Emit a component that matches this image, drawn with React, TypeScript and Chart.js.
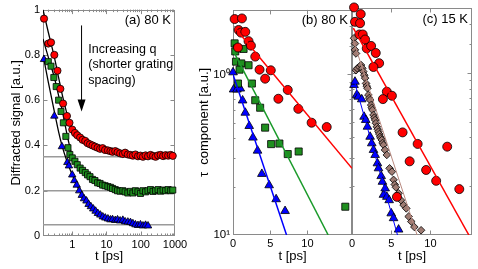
import React, { useEffect, useRef } from 'react';
import { Chart, registerables } from 'chart.js';
Chart.register(...registerables);

const FONT = "'Liberation Sans', Arial, Helvetica, sans-serif";
const W = 478, H = 269;

// ---------------- Panel (a): diffracted signal vs t (log x) ----------------
const aRedT = [0.15, 0.2, 0.24, 0.3, 0.37, 0.45, 0.54, 0.7, 0.83, 1.0, 1.2, 1.4, 1.7, 2.0, 2.4, 2.8, 3.3, 3.9, 4.6, 5.5, 6.5, 7.7, 9.1, 11, 13, 15, 18, 21, 25, 30, 35, 42, 50, 59, 70, 83, 98, 116, 138, 163, 193, 229, 271, 321, 380, 450, 533, 631, 748, 860];
const aRedV = [0.96, 0.85, 0.855, 0.80, 0.73, 0.65, 0.585, 0.53, 0.50, 0.47, 0.455, 0.445, 0.435, 0.425, 0.42, 0.41, 0.405, 0.40, 0.395, 0.39, 0.385, 0.388, 0.38, 0.378, 0.375, 0.372, 0.375, 0.37, 0.365, 0.362, 0.368, 0.36, 0.358, 0.355, 0.36, 0.352, 0.355, 0.35, 0.356, 0.352, 0.358, 0.354, 0.35, 0.356, 0.358, 0.353, 0.357, 0.355, 0.358, 0.354];

const aGreenT = [0.2, 0.24, 0.29, 0.34, 0.4, 0.47, 0.55, 0.65, 0.75, 0.85, 1.0, 1.2, 1.4, 1.7, 2.0, 2.4, 2.8, 3.3, 3.9, 4.6, 5.5, 6.5, 7.7, 9.1, 11, 13, 15, 18, 21, 25, 30, 35, 42, 50, 59, 70, 83, 98, 116, 138, 163, 193, 229, 271, 321, 380, 450, 533, 631, 748, 860];
const aGreenV = [0.77, 0.75, 0.70, 0.66, 0.60, 0.55, 0.50, 0.44, 0.39, 0.36, 0.345, 0.33, 0.315, 0.30, 0.29, 0.28, 0.27, 0.262, 0.25, 0.245, 0.235, 0.232, 0.225, 0.222, 0.218, 0.215, 0.21, 0.205, 0.20, 0.198, 0.20, 0.195, 0.19, 0.197, 0.19, 0.20, 0.195, 0.188, 0.20, 0.195, 0.20, 0.205, 0.197, 0.20, 0.205, 0.198, 0.203, 0.20, 0.205, 0.20, 0.203];

const aBlueT = [0.15, 0.3, 0.5, 0.72, 0.8, 1.0, 1.15, 1.35, 1.6, 1.9, 2.2, 2.6, 3.0, 3.5, 4.1, 4.8, 5.6, 6.6, 7.8, 9.2, 11, 13, 15, 18, 21, 25, 30, 35, 42, 50, 59, 70, 83, 98, 116, 138, 163];
const aBlueV = [0.78, 0.53, 0.395, 0.325, 0.31, 0.27, 0.245, 0.225, 0.2, 0.18, 0.165, 0.155, 0.14, 0.13, 0.12, 0.11, 0.1, 0.093, 0.085, 0.08, 0.076, 0.072, 0.073, 0.069, 0.072, 0.067, 0.07, 0.063, 0.062, 0.06, 0.055, 0.05, 0.047, 0.05, 0.045, 0.048, 0.045];

const aFitRedT = [0.14, 0.2, 0.3, 0.4, 0.5, 0.6, 0.7, 0.85, 1.0, 1.5, 2, 3, 5, 10, 30, 100, 1000];
const aFitRedV = [1.0, 0.9, 0.79, 0.7, 0.63, 0.58, 0.54, 0.5, 0.475, 0.44, 0.425, 0.41, 0.392, 0.378, 0.364, 0.356, 0.354];
const aFitGreenT = [0.14, 0.2, 0.3, 0.4, 0.5, 0.6, 0.7, 0.8, 1.0, 1.5, 2, 3, 5, 10, 30, 100, 1000];
const aFitGreenV = [0.87, 0.79, 0.70, 0.62, 0.56, 0.5, 0.45, 0.41, 0.355, 0.31, 0.29, 0.265, 0.24, 0.22, 0.2, 0.197, 0.2];
const aFitBlueT = [0.14, 0.2, 0.3, 0.4, 0.5, 0.7, 1.0, 1.5, 2, 3, 5, 10, 30, 100, 170];
const aFitBlueV = [0.8, 0.68, 0.55, 0.46, 0.4, 0.33, 0.27, 0.21, 0.175, 0.14, 0.11, 0.08, 0.065, 0.05, 0.047];

const aBaselines = [0.35, 0.2, 0.05];
const aXRange = [0.14, 1000];
const aXLabels = [1, 10, 100, 1000];
const aYRange = [0, 1];

const aArrow = { t: 1.87, from: 0.93, to: 0.55 };
const aNoteT = 2.95;
const aNoteLines = ['Increasing q', '(shorter grating', 'spacing)'];
const aNoteV = [0.825, 0.757, 0.685];

// ---------------- Panel (b): tau components, 80 K ----------------
const bRedT = [0.22, 1.2, 0.75, 1.07, 1.65, 2.09, 2.41, 0.67, 2.99, 3.57, 4.32, 5.08, 6.1, 7.36, 8.78, 10.57, 12.6];
const bRedV = [2.21, 2.23, 1.89, 1.82, 1.84, 1.61, 1.51, 1.47, 1.29, 1.07, 0.94, 1.06, 0.705, 0.80, 0.61, 0.50, 0.47];
const bGreenT = [0.22, 1.42, 0.53, 0.3, 0.4, 1.11, 2.09, 0.88, 0.67, 2.54, 2.99, 3.65, 4.32, 5.13, 6.24, 7.36, 8.83, 15.1];
const bGreenV = [1.56, 1.44, 1.45, 1.39, 1.2, 1.17, 1.14, 1.07, 0.877, 0.877, 0.69, 0.62, 0.466, 0.368, 0.371, 0.319, 0.331, 0.15];
const bBlueT = [0, 0.08, 0.53, 0.98, 1.29, 1.65, 2.18, 2.68, 3.3, 3.88, 4.86, 5.8, 7.0];
const bBlueV = [1.03, 0.805, 0.805, 0.816, 0.688, 0.577, 0.477, 0.404, 0.335, 0.24, 0.204, 0.167, 0.141];
const bFitRedT = [0.5, 16];
const bFitRedV = [1.89, 0.26];
const bFitGreenT = [0, 12.8];
const bFitGreenV = [1.41, 0.1];
const bFitBlueT = [0, 7.2];
const bFitBlueV = [1.0, 0.1];
const bXRange = [0, 16];
const bXLabels = [0, 5, 10];

// ---------------- Panel (c): tau components, 15 K ----------------
const cRedT = [0.26, 1.11, 0.38, 1.03, 0.94, 1.37, 1.67, 1.88, 2.44, 3.03, 3.46, 2.73, 4.44, 3.94, 5.09, 6.45, 8.37, 7.35, 9.45, 12.14, 10.73, 13.68, 5.73];
const cRedV = [2.54, 2.31, 2.07, 2.03, 1.73, 1.73, 1.61, 1.42, 1.47, 1.33, 1.15, 1.09, 0.767, 0.69, 0.724, 0.43, 0.365, 0.285, 0.252, 0.351, 0.216, 0.192, 0.172];
const cBrownT = [0.26, 0.38, 0.38, 0.51, 0.51, 0.68, 0.94, 1.15, 1.32, 1.45, 1.56, 1.67, 1.79, 1.88, 1.97, 2.09, 2.2, 2.31, 2.44, 2.52, 2.61, 2.74, 2.85, 2.95, 3.05, 3.16, 3.27, 3.38, 3.48, 3.59, 3.7, 3.8, 3.9, 4.02, 4.2, 4.44, 4.79, 5.09, 5.3, 5.45, 5.6, 5.94, 6.24, 6.58, 6.92, 7.22, 7.56, 7.95, 8.81];
const cBrownV = [1.64, 1.52, 1.39, 1.32, 1.04, 1.07, 1.09, 1.12, 1.07, 1.02, 0.97, 0.93, 0.863, 0.83, 0.805, 0.732, 0.70, 0.681, 0.634, 0.61, 0.591, 0.551, 0.53, 0.513, 0.49, 0.466, 0.45, 0.434, 0.42, 0.404, 0.395, 0.386, 0.37, 0.36, 0.335, 0.312, 0.258, 0.246, 0.219, 0.205, 0.197, 0.181, 0.164, 0.153, 0.146, 0.13, 0.121, 0.112, 0.107];
const cBlueT = [0.26, 0.38, 0.6, 0.81, 1.24, 1.54, 1.75, 1.97, 2.31, 2.52, 2.74, 2.95, 3.24, 3.38, 3.72, 3.88, 4.01, 4.23, 4.44, 4.74, 5.0, 5.3, 5.94];
const cBlueV = [0.843, 0.884, 0.732, 0.714, 0.688, 0.537, 0.513, 0.466, 0.404, 0.368, 0.335, 0.312, 0.277, 0.258, 0.231, 0.213, 0.177, 0.194, 0.172, 0.164, 0.136, 0.127, 0.108];
const cFitRedT = [0.17, 14.9];
const cFitRedV = [1.89, 0.1];
const cFitBrownT = [0, 8.3];
const cFitBrownV = [1.68, 0.1];
const cFitBlueT = [0.3, 5.8];
const cFitBlueV = [0.89, 0.1];
const cXRange = [0, 15.3];
const cXLabels = [0, 5, 10];

const tauYRange = [0.1, 2.52];
const tauYLabels: Record<string, string> = { '1': '10\u2070', '0.1': '10\u00B9' };

// ---------------- colors ----------------
const RED = '#ff0000';
const GREEN_M = '#1f8f1f';
const GREEN_L = '#1a9a2a';
const BLUE = '#0000ff';
const BROWN_M = '#9e7b72';
const BROWN_L = '#b98a80';
const FRAME = '#8a8a8a';

// ---------------- helpers ----------------
const pts = (t: number[], v: number[]) => t.map((x, i) => ({ x, y: v[i] }));
const isPow10 = (v: number) => { const l = Math.log10(v); return Math.abs(l - Math.round(l)) < 1e-6; };
const near = (arr: number[], v: number) => arr.some(a => Math.abs(a - v) < 1e-9 * Math.max(1, Math.abs(a)));

const marker = (data: any[], style: string, color: string, r: number) => ({
  data, showLine: false, pointStyle: style, pointRadius: r, pointHoverRadius: r,
  pointBackgroundColor: color, pointBorderColor: '#000', pointBorderWidth: 0.8, clip: false,
});
const line = (data: any[], color: string, w: number, smooth = false) => ({
  data, showLine: true, borderColor: color, borderWidth: w, pointRadius: 0, pointHoverRadius: 0,
  fill: false, tension: 0, cubicInterpolationMode: smooth ? 'monotone' : 'default',
});

function makeDecor(cfg: { label: string; xLog: boolean; yLog: boolean; note?: boolean }) {
  return {
    id: 'decor',
    beforeDatasetsDraw(chart: any) {
      const { ctx, chartArea: ca } = chart;
      const xs = chart.scales.x, ys = chart.scales.y;
      ctx.save();
      ctx.lineWidth = 1;
      ctx.strokeStyle = FRAME;
      ctx.beginPath();
      for (const t of xs.ticks) {
        const v = t.value;
        if (v <= xs.min || v >= xs.max) continue;
        const p = Math.round(xs.getPixelForValue(v)) + 0.5;
        const len = cfg.xLog && !isPow10(v) ? 2.5 : 4.5;
        ctx.moveTo(p, ca.bottom); ctx.lineTo(p, ca.bottom - len);
        ctx.moveTo(p, ca.top); ctx.lineTo(p, ca.top + len);
      }
      for (const t of ys.ticks) {
        const v = t.value;
        if (v <= ys.min || v >= ys.max) continue;
        const p = Math.round(ys.getPixelForValue(v)) + 0.5;
        const len = cfg.yLog && !isPow10(v) ? 2.5 : 4.5;
        ctx.moveTo(ca.left, p); ctx.lineTo(ca.left + len, p);
        ctx.moveTo(ca.right, p); ctx.lineTo(ca.right - len, p);
      }
      ctx.stroke();
      ctx.strokeRect(Math.round(ca.left) + 0.5, Math.round(ca.top) + 0.5, Math.round(ca.right - ca.left) - 1, Math.round(ca.bottom - ca.top) - 1);
      ctx.restore();
    },
    afterDatasetsDraw(chart: any) {
      const { ctx, chartArea: ca } = chart;
      const xs = chart.scales.x, ys = chart.scales.y;
      ctx.save();
      ctx.fillStyle = '#000';
      ctx.font = `13px ${FONT}`;
      ctx.textAlign = 'right';
      ctx.textBaseline = 'middle';
      ctx.fillText(cfg.label, ca.right - 4, ca.top + 11);
      if (cfg.note) {
        const ax = xs.getPixelForValue(aArrow.t);
        const y0 = ys.getPixelForValue(aArrow.from);
        const y1 = ys.getPixelForValue(aArrow.to);
        ctx.strokeStyle = '#000';
        ctx.lineWidth = 1;
        ctx.beginPath();
        ctx.moveTo(ax, y0); ctx.lineTo(ax, y1 - 10);
        ctx.stroke();
        ctx.beginPath();
        ctx.moveTo(ax - 4, y1 - 12); ctx.lineTo(ax + 4, y1 - 12); ctx.lineTo(ax, y1);
        ctx.closePath(); ctx.fill();
        ctx.font = `12.5px ${FONT}`;
        ctx.textAlign = 'left';
        const tx = xs.getPixelForValue(aNoteT);
        aNoteLines.forEach((s, i) => ctx.fillText(s, tx, ys.getPixelForValue(aNoteV[i])));
      }
      ctx.restore();
    },
  };
}

const tickFont = { family: FONT, size: 11 };
const titleFont = { family: FONT, size: 13 };

function baseX(type: string, range: number[], labels: number[], height: number) {
  return {
    type, min: range[0], max: range[1], position: 'bottom',
    grid: { display: false, drawTicks: false }, border: { display: false },
    ticks: {
      autoSkip: false, maxRotation: 0, padding: 2, font: tickFont, color: '#000',
      ...(type === 'linear' ? { stepSize: 5 } : {}),
      callback: (v: any) => (near(labels, Number(v)) ? String(Number(v)) : ''),
    },
    title: { display: true, text: 't [ps]', font: titleFont, color: '#000', padding: { top: 0, bottom: 5 } },
    afterFit: (s: any) => { s.height = height; },
  };
}

function configA() {
  return {
    type: 'scatter',
    data: {
      datasets: [
        marker(pts(aRedT, aRedV), 'circle', RED, 3.6),
        marker(pts(aGreenT, aGreenV), 'rect', GREEN_M, 4.3),
        marker(pts(aBlueT, aBlueV), 'triangle', BLUE, 4.3),
        line(pts(aFitRedT, aFitRedV), '#000', 1.3, true),
        line(pts(aFitGreenT, aFitGreenV), '#000', 1.3, true),
        line(pts(aFitBlueT, aFitBlueV), '#000', 1.3, true),
        ...aBaselines.map(b => line([{ x: aXRange[0], y: b }, { x: aXRange[1], y: b }], '#9a9a9a', 1.5)),
      ],
    },
    options: {
      animation: false, responsive: false, events: [],
      layout: { padding: { left: 0, top: 8, right: W - 175, bottom: 0 } },
      plugins: { legend: { display: false }, tooltip: { enabled: false } },
      scales: {
        x: baseX('logarithmic', aXRange, aXLabels, 33),
        y: {
          type: 'linear', min: aYRange[0], max: aYRange[1],
          grid: { display: false, drawTicks: false }, border: { display: false },
          ticks: {
            stepSize: 0.2, padding: 3, font: tickFont, color: '#000', autoSkip: false,
            callback: (v: any) => String(Number(Number(v).toFixed(1))),
          },
          title: { display: true, text: 'Diffracted signal [a.u.]', font: titleFont, color: '#000', padding: { top: 9, bottom: 0 } },
          afterFit: (s: any) => { s.width = 43; },
        },
      },
    },
    plugins: [makeDecor({ label: '(a) 80 K', xLog: true, yLog: false, note: true })],
  };
}

function tauY(show: boolean, left: number) {
  return {
    type: 'logarithmic', min: tauYRange[0], max: tauYRange[1],
    grid: { display: false, drawTicks: false }, border: { display: false },
    ticks: {
      display: show, autoSkip: false, padding: 3, font: { family: FONT, size: 11.5 }, color: '#000',
      callback: (v: any) => {
        const k = String(Number(v));
        return tauYLabels[k] ?? '';
      },
    },
    title: { display: show, text: '\u03C4  component [a.u.]', font: titleFont, color: '#000', padding: { top: 7, bottom: 0 } },
    afterFit: (s: any) => { s.width = left; },
  };
}

function configB() {
  return {
    type: 'scatter',
    data: {
      datasets: [
        line(pts(bFitRedT, bFitRedV), RED, 1.5),
        line(pts(bFitGreenT, bFitGreenV), GREEN_L, 1.5),
        line(pts(bFitBlueT, bFitBlueV), BLUE, 1.5),
        marker(pts(bRedT, bRedV), 'circle', RED, 4.5),
        marker(pts(bGreenT, bGreenV), 'rect', GREEN_M, 5),
        marker(pts(bBlueT, bBlueV), 'triangle', BLUE, 5),
      ],
    },
    options: {
      animation: false, responsive: false, events: [],
      layout: { padding: { left: 190, top: 8, right: W - 352, bottom: 0 } },
      plugins: { legend: { display: false }, tooltip: { enabled: false } },
      scales: { x: baseX('linear', bXRange, bXLabels, 34), y: tauY(true, 43) },
    },
    plugins: [makeDecor({ label: '(b) 80 K', xLog: false, yLog: true })],
  };
}

function configC() {
  return {
    type: 'scatter',
    data: {
      datasets: [
        line(pts(cFitRedT, cFitRedV), RED, 1.5),
        line(pts(cFitBlueT, cFitBlueV), BLUE, 1),
        marker(pts(cRedT, cRedV), 'circle', RED, 4.5),
        marker(pts(cBlueT, cBlueV), 'triangle', BLUE, 5),
        line(pts(cFitBrownT, cFitBrownV), BROWN_L, 1),
        marker(pts(cBrownT, cBrownV), 'rectRot', BROWN_M, 3.8),
      ],
    },
    options: {
      animation: false, responsive: false, events: [],
      layout: { padding: { left: 352, top: 8, right: W - 472, bottom: 0 } },
      plugins: { legend: { display: false }, tooltip: { enabled: false } },
      scales: { x: baseX('linear', cXRange, cXLabels, 34), y: tauY(false, 0) },
    },
    plugins: [makeDecor({ label: '(c) 15 K', xLog: false, yLog: true })],
  };
}

function Panel({ make }: { make: () => any }) {
  const ref = useRef<HTMLCanvasElement>(null);
  useEffect(() => {
    const c = new Chart(ref.current as HTMLCanvasElement, make());
    return () => c.destroy();
  }, []);
  return (
    <canvas ref={ref} width={W} height={H}
      style={{ position: 'absolute', left: 0, top: 0, width: W, height: H }} />
  );
}

export default function App() {
  useEffect(() => {
    document.body.style.margin = '0';
  }, []);
  return (
    <div style={{ position: 'relative', width: W, height: H, background: '#fff', overflow: 'hidden' }}>
      <Panel make={configA} />
      <Panel make={configB} />
      <Panel make={configC} />
    </div>
  );
}
